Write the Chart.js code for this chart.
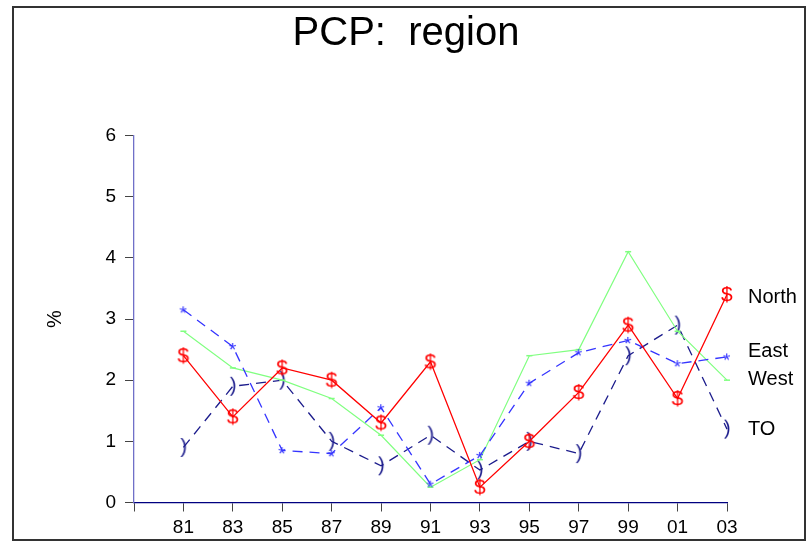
<!DOCTYPE html>
<html>
<head>
<meta charset="utf-8">
<script src="https://cdn.jsdelivr.net/npm/chart.js@4.4.1/dist/chart.umd.min.js"></script>
<style>
  body { margin: 0; background: #fff; }
  canvas { display: block; }
</style>
</head>
<body>
<canvas id="graficRegion" width="807" height="542"></canvas>
<script>
let years = [1981, 1983, 1985, 1987, 1989, 1991, 1993, 1995, 1997, 1999, 2001, 2003]
let north = [2.4, 1.4, 2.2, 2.0, 1.3, 2.3, 0.25, 1.0, 1.8, 2.9, 1.7, 3.4]
let east = [3.15, 2.55, 0.85, 0.8, 1.55, 0.3, 0.77, 1.95, 2.45, 2.65, 2.27, 2.38]
let west = [2.8, 2.2, 2.0, 1.7, 1.1, 0.25, 0.7, 2.4, 2.5, 4.1, 2.8, 2.0]
let to = [0.9, 1.9, 2.0, 1.0, 0.6, 1.1, 0.53, 1.0, 0.8, 2.4, 2.9, 1.2]
let yTicks = [0, 1, 2, 3, 4, 5, 6]
let titulo = 'PCP:  region'

let fonte = "'Liberation Sans', Arial, sans-serif"

// marcador feito de um caractere, centrado no ponto
function glifo(ch, cor, tam) {
  let c = document.createElement('canvas')
  let ctx = c.getContext('2d')
  ctx.font = tam + 'px ' + fonte
  let m = ctx.measureText(ch)
  let w = Math.ceil(m.actualBoundingBoxLeft + m.actualBoundingBoxRight) + 2
  let h = Math.ceil(m.actualBoundingBoxAscent + m.actualBoundingBoxDescent) + 2
  c.width = w
  c.height = h
  ctx.font = tam + 'px ' + fonte
  ctx.fillStyle = cor
  ctx.textBaseline = 'alphabetic'
  ctx.fillText(ch, 1 + m.actualBoundingBoxLeft, 1 + m.actualBoundingBoxAscent)
  return c
}

function pontos(vals) {
  return years.map((a, i) => ({ x: a, y: vals[i] }))
}

let rotulos = {
  id: 'rotulos',
  afterDatasetsDraw(chart) {
    let ctx = chart.ctx
    let xs = chart.scales.x, ys = chart.scales.y
    let ajuste = [3, -5, -1, 0]
    ctx.save()
    ctx.font = '20px ' + fonte
    ctx.fillStyle = '#000'
    ctx.textAlign = 'left'
    ctx.textBaseline = 'middle'
    chart.data.datasets.forEach((ds, i) => {
      let ult = ds.data[ds.data.length - 1]
      ctx.fillText(ds.label, xs.right + 21, ys.getPixelForValue(ult.y) + ajuste[i])
    })
    ctx.restore()
  },
  afterDraw(chart) {
    let ctx = chart.ctx
    ctx.save()
    // titulo centrado na pagina
    ctx.font = '40px ' + fonte
    ctx.fillStyle = '#000'
    ctx.textAlign = 'center'
    ctx.textBaseline = 'alphabetic'
    ctx.fillText(titulo, 406, 45)
    // moldura
    ctx.strokeStyle = '#333'
    ctx.lineWidth = 2
    ctx.strokeRect(13, 7, 792, 533)
    ctx.restore()
  }
}

new Chart(document.getElementById('graficRegion'), {
  type: 'line',
  data: {
    datasets: [{
      label: 'North',
      data: pontos(north),
      borderColor: '#ff0000',
      borderWidth: 1.3,
      pointStyle: glifo('$', '#ff0000', 21),
      pointRadius: 5,
      clip: false
    }, {
      label: 'East',
      data: pontos(east),
      borderColor: '#3535ff',
      borderWidth: 1.3,
      borderDash: [10, 7],
      pointStyle: glifo('*', '#3535ff', 19),
      pointRadius: 5,
      clip: false
    }, {
      label: 'West',
      data: pontos(west),
      borderColor: '#80ff80',
      borderWidth: 1.2,
      pointStyle: 'line',
      pointRadius: 3,
      pointBorderColor: '#80ff80',
      pointBorderWidth: 1.5,
      clip: false
    }, {
      label: 'TO',
      data: pontos(to),
      borderColor: '#1c1c8c',
      borderWidth: 1.3,
      borderDash: [10, 7],
      pointStyle: glifo(')', '#1c1c8c', 20),
      pointRadius: 5,
      clip: false
    }]
  },
  options: {
    responsive: false,
    animation: false,
    devicePixelRatio: 1,
    layout: { padding: { left: 0, right: 80, top: 135.5, bottom: 0 } },
    plugins: {
      legend: { display: false },
      tooltip: { enabled: false },
      title: { display: false }
    },
    scales: {
      x: {
        type: 'linear',
        min: 1979,
        max: 2003,
        afterFit: s => { s.height = 39.5 },
        afterBuildTicks: s => { s.ticks = [1979].concat(years).map(v => ({ value: v })) },
        ticks: {
          color: '#000',
          font: { family: fonte, size: 19 },
          padding: 5,
          maxRotation: 0,
          autoSkip: false,
          callback: v => v == 1979 ? '' : String(v % 100).padStart(2, '0')
        },
        grid: { drawOnChartArea: false, drawTicks: true, tickLength: 9, tickColor: '#444' },
        border: { color: '#000080', width: 1.3 }
      },
      y: {
        min: 0,
        max: 6,
        afterFit: s => { s.width = 134 },
        afterBuildTicks: s => { s.ticks = yTicks.map(v => ({ value: v })) },
        ticks: {
          color: '#000',
          font: { family: fonte, size: 19 },
          padding: 9
        },
        title: {
          display: true,
          text: '%',
          color: '#000',
          font: { family: fonte, size: 20 },
          padding: { top: 43, bottom: 0 }
        },
        grid: { drawOnChartArea: false, drawTicks: true, tickLength: 9, tickColor: '#444' },
        border: { color: '#7070c8', width: 1.3 }
      }
    }
  },
  plugins: [rotulos]
})
</script>
</body>
</html>
